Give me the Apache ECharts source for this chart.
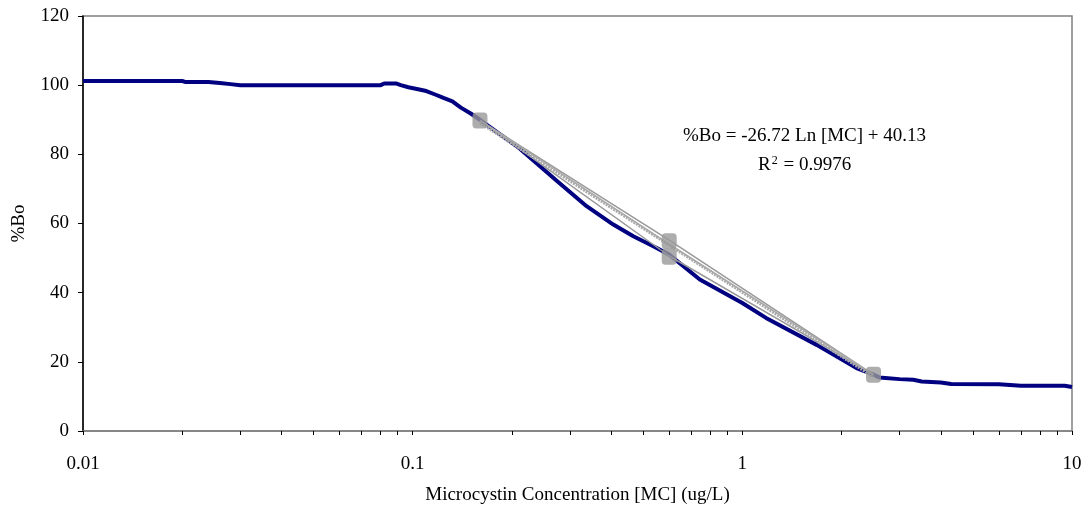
<!DOCTYPE html>
<html>
<head>
<meta charset="utf-8">
<script src="https://cdn.jsdelivr.net/npm/echarts@6/dist/echarts.min.js"></script>
<style>html,body{margin:0;padding:0;background:#fff;}#c{width:1085px;height:508px;}</style>
</head>
<body>
<div id="c"></div>
<script>
// ---- data ----
var curveMC = [0.01,0.02,0.0205,0.024,0.026,0.028,0.030,0.080,0.082,0.089,0.092,0.097,0.103,0.110,0.117,0.124,0.132,0.140,0.150,0.16,0.211,0.274,0.337,0.406,0.467,0.537,0.6,0.743,1.0,1.18,1.68,2.22,2.5,2.6,3.0,3.3,3.5,4.0,4.3,6.0,7.0,9.5,10];
var curveBo = [101.2,101.2,100.9,100.9,100.6,100.3,100.0,100.0,100.5,100.5,100.0,99.4,98.9,98.3,97.3,96.3,95.3,93.5,91.8,90.0,81.7,72.3,65.0,59.7,56.3,53.4,51.0,43.8,37.0,32.7,24.9,18.2,16.3,15.5,15.0,14.8,14.3,14.0,13.6,13.5,13.1,13.1,12.7];
var stdMC = [0.16, 0.6, 0.6, 2.5];
var stdBo = [89.8, 54.9, 50.4, 16.3];
var repAMC = [0.16, 0.6, 2.5];
var repABo = [89.8, 55.2, 16.3];
var repBMC = [0.16, 0.6, 2.5];
var repBBo = [89.8, 50.6, 16.3];
var repCMC = [0.16, 0.6, 2.5];
var repCBo = [89.8, 54.0, 16.3];
var trendMC = [0.16, 2.5];
var trendBo = [89.1, 15.6];
var xTickValues = [0.01,0.02,0.03,0.04,0.05,0.06,0.07,0.08,0.09,0.1,0.2,0.3,0.4,0.5,0.6,0.7,0.8,0.9,1,2,3,4,5,6,7,8,9,10];
var xLabelValues = [0.01, 0.1, 1, 10];
var xLabelText = ['0.01', '0.1', '1', '10'];
var eqLine = '%Bo = -26.72 Ln [MC] + 40.13';
var r2Value = '0.9976';

function zip(a, b) { return a.map(function (v, i) { return [v, b[i]]; }); }

var FONT = 'Liberation Serif';
var FS = 19;
var chart = echarts.init(document.getElementById('c'), null, {renderer: 'canvas'});
chart.setOption({
  backgroundColor: '#ffffff',
  animation: false,
  textStyle: {fontFamily: FONT},
  grid: {left: 83, right: 13, top: 16, bottom: 77, containLabel: false, outerBoundsMode: 'none',
    show: true, borderColor: '#808080', borderWidth: 1.5, backgroundColor: 'transparent'},
  xAxis: {
    type: 'log', logBase: 10, min: 0.01, max: 10,
    name: 'Microcystin Concentration [MC] (ug/L)', nameLocation: 'middle', nameGap: 55,
    nameTextStyle: {fontFamily: FONT, fontSize: FS, color: '#000'},
    axisLine: {show: true, lineStyle: {color: '#808080', width: 1.5}},
    axisTick: {show: true, inside: false, length: 4, customValues: xTickValues, lineStyle: {color: '#000', width: 1}},
    axisLabel: {show: true, customValues: xLabelValues, margin: 24, fontFamily: FONT, fontSize: FS, color: '#000',
      formatter: function (v) { var i = xLabelValues.indexOf(v); return i >= 0 ? xLabelText[i] : String(v); }},
    splitLine: {show: false}, minorTick: {show: false}
  },
  yAxis: {
    type: 'value', min: 0, max: 120, interval: 20,
    name: '%Bo', nameLocation: 'middle', nameGap: 54, nameRotate: 90,
    nameTextStyle: {fontFamily: FONT, fontSize: FS, color: '#000'},
    axisLine: {show: true, lineStyle: {color: '#000', width: 1.5}},
    axisTick: {show: true, inside: false, length: 5, lineStyle: {color: '#000', width: 1}},
    axisLabel: {margin: 14, fontFamily: FONT, fontSize: FS, color: '#000'},
    splitLine: {show: false}
  },
  series: [
    {type: 'line', name: 'curve', data: zip(curveMC, curveBo), showSymbol: false, symbol: 'none',
      lineStyle: {color: '#000080', width: 4}, z: 2},
    {type: 'line', name: 'repA', data: zip(repAMC, repABo), symbol: 'none',
      lineStyle: {color: '#999999', width: 1.5}, z: 3},
    {type: 'line', name: 'repB', data: zip(repBMC, repBBo), symbol: 'none',
      lineStyle: {color: '#999999', width: 1.5}, z: 3},
    {type: 'line', name: 'repC', data: zip(repCMC, repCBo), symbol: 'none',
      lineStyle: {color: '#aaaaaa', width: 1.5}, z: 3},
    {type: 'line', name: 'trend', data: zip(trendMC, trendBo), symbol: 'none',
      lineStyle: {color: '#aaaaaa', width: 3, type: [2, 1]}, z: 3},
    {type: 'scatter', name: 'standards', data: zip(stdMC, stdBo), symbol: 'roundRect', symbolSize: [15, 16],
      itemStyle: {color: '#999999'}, z: 4}
  ],
  graphic: [
    {type: 'text', left: 683, top: 127, style: {text: eqLine, fontFamily: FONT, fontSize: FS, fill: '#000'}},
    {type: 'text', left: 758, top: 155, style: {
      text: '{n|R}{s|2}{n| = ' + r2Value + '}', fontFamily: FONT,
      rich: {n: {fontFamily: FONT, fontSize: FS, fill: '#000', verticalAlign: 'bottom'}, s: {fontFamily: FONT, fontSize: 12, fill: '#000', verticalAlign: 'top', padding: [0, 1, 8, 1]}}
    }}
  ]
});
</script>
</body>
</html>
